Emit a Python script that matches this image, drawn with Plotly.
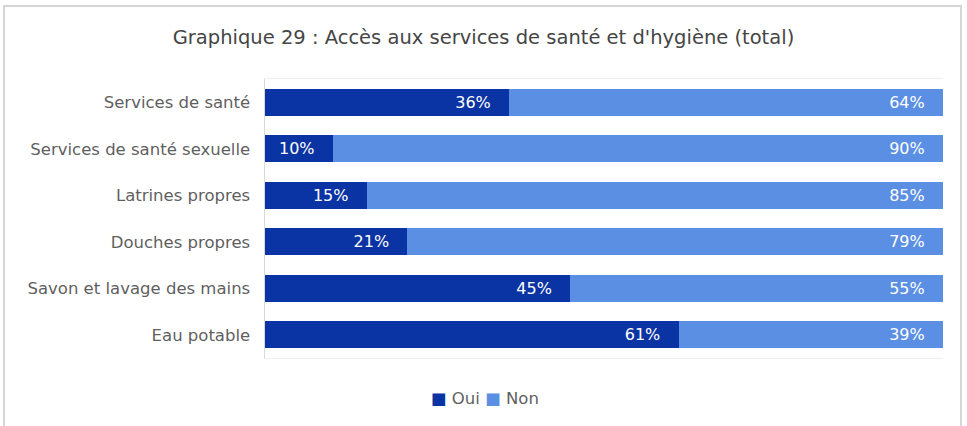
import plotly.graph_objects as go

categories = ["Services de santé", "Services de santé sexuelle", "Latrines propres",
              "Douches propres", "Savon et lavage des mains", "Eau potable"]
oui = [36, 10, 15, 21, 45, 61]
non = [64, 90, 85, 79, 55, 39]
series_names = ["Oui", "Non"]
colors = ["#0a33a3", "#5b8fe3"]

pad = "\u00a0" * 3
fig = go.Figure()
for name, vals, col in zip(series_names, [oui, non], colors):
    fig.add_trace(go.Bar(
        y=categories, x=vals, name=name, orientation="h",
        marker=dict(color=col, line=dict(width=0)),
        text=[f"{v}%{pad}" for v in vals], textposition="inside",
        insidetextanchor="end", textfont=dict(color="white", size=16),
        hoverinfo="skip", showlegend=False))

legend_text = (f"<span style='color:{colors[0]}'>■</span> {series_names[0]} "
               f"<span style='color:{colors[1]}'>■</span> {series_names[1]}")

L, R, T, B = 265, 943, 79, 358
W, H = 967, 426
pw, ph = R - L, B - T

fig.update_layout(
    barmode="stack", bargap=0.42,
    width=W, height=H,
    margin=dict(l=L, r=W - R, t=T, b=H - B, autoexpand=False),
    paper_bgcolor="white", plot_bgcolor="white",
    font=dict(family="DejaVu Sans, sans-serif", color="#5f5f5f", size=16.5),
    title=dict(text="Graphique 29 : Accès aux services de santé et d'hygiène (total)",
               x=0.5, xanchor="center", y=1 - 37 / H, yanchor="middle",
               font=dict(size=19.5, color="#454545")),
    uniformtext=dict(minsize=16, mode="show"),
    xaxis=dict(range=[0, 100], showticklabels=False, ticks="", showgrid=False,
               zeroline=False, fixedrange=True, showline=True, mirror=True,
               linecolor="#efefef", linewidth=1),
    yaxis=dict(autorange="reversed", showline=True, linecolor="#d9d9d9", linewidth=1,
               ticks="", ticksuffix="  ", showgrid=False, automargin=False,
               fixedrange=True),
    annotations=[dict(text=legend_text, xref="paper", yref="paper",
                      x=(485 - L) / pw, y=(B - 398) / ph, xanchor="center",
                      yanchor="middle", showarrow=False,
                      font=dict(size=16.5, color="#5f5f5f"))],
    shapes=[dict(type="rect", xref="paper", yref="paper",
                 x0=(4 - L) / pw, x1=(961 - L) / pw,
                 y0=(B - 440) / ph, y1=(B - 6) / ph,
                 line=dict(color="#d6d6d6", width=2), layer="below")],
)
fig.write_html("out.html", config={"displayModeBar": False},
               post_script="document.body.style.margin='0';")
